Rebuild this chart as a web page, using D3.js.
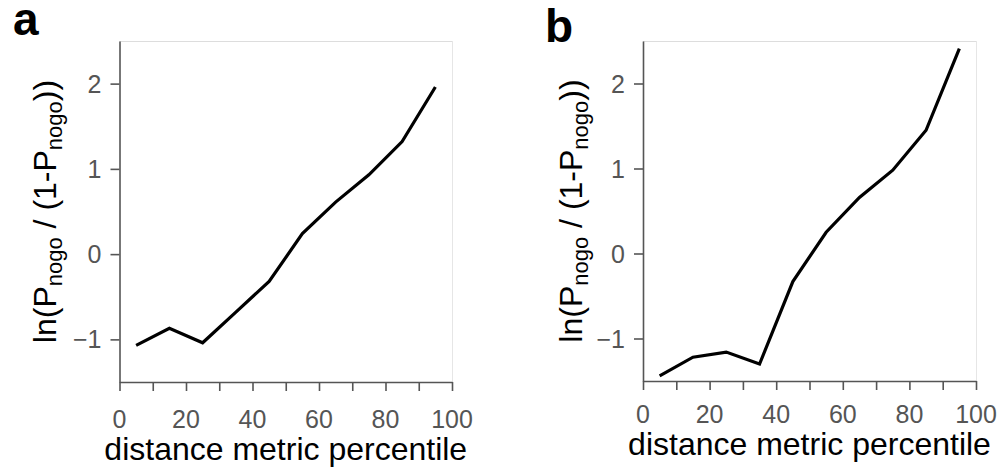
<!DOCTYPE html>
<html><head><meta charset="utf-8">
<script src="https://cdn.jsdelivr.net/npm/d3@7"></script>
<style>body{margin:0;background:#fff;} svg{display:block;font-family:"Liberation Sans",Arial,sans-serif;}</style>
</head><body>
<svg id="c" width="1000" height="467"></svg>
<script>
const percentiles = [5, 15, 25, 35, 45, 55, 65, 75, 85, 95];
const logOddsA = [-1.07, -0.87, -1.04, -0.68, -0.32, 0.24, 0.61, 0.93, 1.32, 1.96];
const logOddsB = [-1.44, -1.22, -1.16, -1.30, -0.33, 0.25, 0.66, 0.98, 1.45, 2.41];
const xTicks = [0, 20, 40, 60, 80, 100];
const xMinorTicks = [0, 10, 20, 30, 40, 50, 60, 70, 80, 90, 100];
const yTicks = [-1, 0, 1, 2];
const panelLabels = ["a", "b"];
const xTitle = "distance metric percentile";

const svg = d3.select("#c");
const panels = [
  {label: panelLabels[0], data: logOddsA, x0: 119.5, x1: 452, y0: 382, y1: 41, lx: 13, ly: 35, yl: 56, xtBase: 460, tickLabY: 428},
  {label: panelLabels[1], data: logOddsB, x0: 643, x1: 976, y0: 381, y1: 41, lx: 545, ly: 42, yl: 582, xtBase: 455, tickLabY: 423}
];
const axisCol = "#555";
const textGrey = "#555";

panels.forEach(p => {
  const x = d3.scaleLinear().domain([0, 100]).range([p.x0, p.x1]);
  const y = d3.scaleLinear().domain([-1.5, 2.5]).range([p.y0, p.y1]);
  const g = svg.append("g");
  g.append("line").attr("x1", p.x0).attr("x2", p.x1).attr("y1", p.y1 + 0.5).attr("y2", p.y1 + 0.5).attr("stroke", "#ddd").attr("stroke-width", 1);
  g.append("line").attr("x1", p.x1 + 0.5).attr("x2", p.x1 + 0.5).attr("y1", p.y1).attr("y2", p.y0).attr("stroke", "#e6e6e6").attr("stroke-width", 1);
  const xa = g.append("g").attr("transform", `translate(0,${p.y0})`)
    .call(d3.axisBottom(x).tickValues(xMinorTicks).tickSize(9).tickSizeOuter(0).tickFormat(""));
  xa.selectAll("path,line").attr("stroke", axisCol).attr("stroke-width", 1.6);
  g.selectAll(".xl").data(xTicks).enter().append("text")
    .attr("x", d => x(d)).attr("y", p.tickLabY).attr("text-anchor", "middle")
    .attr("font-size", 25).attr("fill", textGrey).text(d => d);
  const ya = g.append("g").attr("transform", `translate(${p.x0},0)`)
    .call(d3.axisLeft(y).tickValues(yTicks).tickSize(9).tickSizeOuter(0).tickFormat(""));
  ya.selectAll("path,line").attr("stroke", axisCol).attr("stroke-width", 1.6);
  g.selectAll(".yl").data(yTicks).enter().append("text")
    .attr("x", p.x0 - 18).attr("y", d => y(d)).attr("dy", "0.36em").attr("text-anchor", "end")
    .attr("font-size", 25).attr("fill", textGrey).text(d => d < 0 ? "\u2212" + Math.abs(d) : d);
  const line = d3.line().x((d, i) => x(percentiles[i])).y(d => y(d));
  g.append("path").datum(p.data).attr("d", line).attr("fill", "none")
    .attr("stroke", "#000").attr("stroke-width", 3.2).attr("stroke-linejoin", "miter");
  g.append("text").attr("x", (p.x0 + p.x1) / 2).attr("y", p.xtBase).attr("text-anchor", "middle")
    .attr("font-size", 32).attr("fill", "#000").text(xTitle);
  const yt = g.append("text").attr("transform", `translate(${p.yl},${(p.y0 + p.y1) / 2}) rotate(-90)`)
    .attr("text-anchor", "middle").attr("font-size", 32).attr("fill", "#000");
  yt.append("tspan").text("ln(P");
  yt.append("tspan").attr("font-size", 22).attr("dy", 6).text("nogo");
  yt.append("tspan").attr("dy", -6).text(" / (1-P");
  yt.append("tspan").attr("font-size", 22).attr("dy", 6).text("nogo");
  yt.append("tspan").attr("dy", -6).text("))");
  g.append("text").attr("x", p.lx).attr("y", p.ly).attr("font-size", 46).attr("font-weight", "bold").attr("fill", "#000").text(p.label);
});
</script>
</body></html>
